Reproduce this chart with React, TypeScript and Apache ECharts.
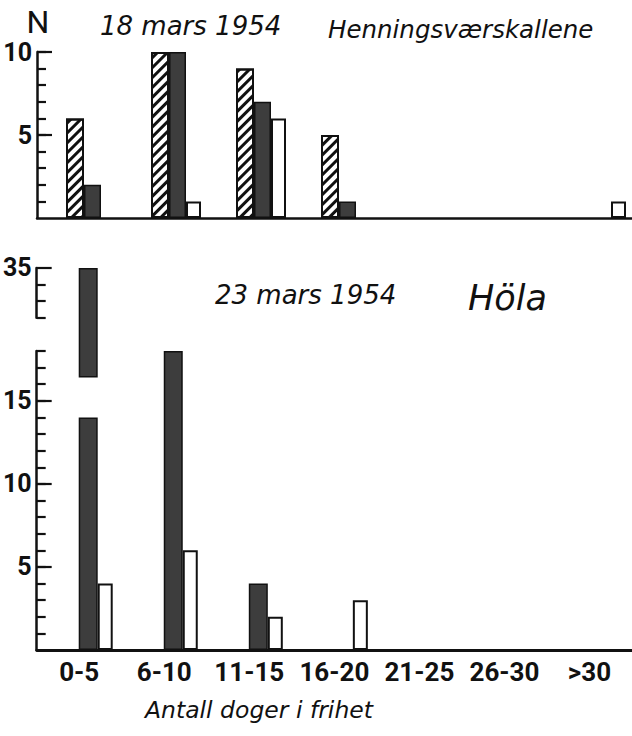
import React, { useEffect, useRef } from "react";
import * as echarts from "echarts";

// ---- data ----
const categories = ["0-5", "6-10", "11-15", "16-20", "21-25", "26-30", ">30"];

// 18 mars 1954 — Henningsværskallene
const henHatched = [6, 10, 9, 5, 0, 0, 0];
const henDark = [2, 10, 7, 1, 0, 0, 0];
const henWhite = [0, 1, 6, 0, 0, 0, 1];

// 23 mars 1954 — Höla
const holaDark = [35, 18, 4, 0, 0, 0, 0];
const holaWhite = [4, 6, 2, 3, 0, 0, 0];

// tick labels
const topLabels = [5, 10];
const lowerLabels = [5, 10, 15];
const upperLabels = [35];

// broken axis of the lower panel
const LOWER_MAX = 18;
const UPPER_MIN = 32;
const UPPER_MAX = 35;
const BREAK_GAP = 2; // display units between the two axis pieces
const CUT_FROM = 14; // where the tall bar is drawn cut
const CUT_TO = 16.4;

const display = (v: number) =>
  v > LOWER_MAX ? v - UPPER_MIN + LOWER_MAX + BREAK_GAP : v;
const nz = (v: number | null) => (v === 0 || v === null ? null : v);
const range = (a: number, b: number) => {
  const r: number[] = [];
  for (let i = a; i <= b; i++) r.push(i);
  return r;
};

const INK = "#111";
const DARK = "#3d3d3d";
const FONT_NARROW = "Roboto, 'Liberation Sans', sans-serif";
const FONT_HAND = "'DejaVu Sans', sans-serif";

const hatchStyle = {
  color: "#fff",
  borderColor: INK,
  borderWidth: 2,
  decal: {
    symbol: "rect",
    symbolSize: 1,
    color: INK,
    backgroundColor: "#fff",
    dashArrayX: [1, 0],
    dashArrayY: [2.6, 3.4],
    rotation: -Math.PI / 4,
  },
};
const darkStyle = { color: DARK, borderColor: INK, borderWidth: 1.5 };
const whiteStyle = { color: "#fff", borderColor: INK, borderWidth: 2 };

export default function App() {
  const ref = useRef<HTMLDivElement>(null);

  useEffect(() => {
    if (!ref.current) return;
    const chart = echarts.init(ref.current, null, { renderer: "svg" });

    const unit = 299 / LOWER_MAX;
    const base = 650;
    const upperTop = base - display(UPPER_MAX) * unit;
    const upperBottom = base - display(UPPER_MIN) * unit;

    const lineStyle = { color: INK, width: 2.5 };
    const tickStyle = { color: INK, width: 2.2 };
    const labelStyle = {
      color: INK,
      fontSize: 25,
      fontFamily: FONT_NARROW,
      fontWeight: "bold",
      margin: 5,
    };

    const yMinor = (gridIdx: number, min: number, max: number, ticks: number[], labels: number[]) => ({
      type: "value",
      gridIndex: gridIdx,
      position: "left",
      min,
      max,
      axisLine: { show: true, lineStyle },
      axisTick: { show: true, inside: true, length: 9, lineStyle: tickStyle, customValues: ticks },
      axisLabel: { show: true, ...labelStyle, customValues: labels },
      splitLine: { show: false },
    });
    const yMajor = (gridIdx: number, min: number, max: number, ticks: number[]) => ({
      type: "value",
      gridIndex: gridIdx,
      position: "left",
      min,
      max,
      axisLine: { show: false },
      axisTick: { show: true, inside: true, length: 15, lineStyle: tickStyle, customValues: ticks },
      axisLabel: { show: false },
      splitLine: { show: false },
    });

    // lower panel, dark bars split where the axis is broken
    const darkLow = holaDark.map((v) => nz(v > LOWER_MAX ? CUT_FROM : v));
    const darkGap = holaDark.map((v) => (v > LOWER_MAX ? CUT_TO - CUT_FROM : null));
    const darkHigh = holaDark.map((v) => (v > LOWER_MAX ? display(v) - CUT_TO : null));

    const empty = categories.map(() => null);

    const option: any = {
      animation: false,
      backgroundColor: "#fff",
      grid: [
        { left: 37, top: 52, width: 600, height: 166 },
        { left: 33, top: base - LOWER_MAX * unit, width: 604, height: LOWER_MAX * unit },
        { left: 33, top: upperTop, width: 604, height: upperBottom - upperTop },
      ],
      xAxis: [
        {
          type: "category",
          gridIndex: 0,
          data: categories,
          axisLine: { show: true, lineStyle },
          axisTick: { show: false },
          axisLabel: { show: false },
        },
        {
          type: "category",
          gridIndex: 1,
          data: categories,
          axisLine: { show: true, lineStyle: { color: INK, width: 2.8 } },
          axisTick: { show: false },
          axisLabel: {
            show: true,
            interval: 0,
            color: INK,
            fontSize: 26,
            fontFamily: FONT_NARROW,
            fontWeight: "bold",
            margin: 9,
          },
        },
        { type: "category", gridIndex: 2, data: categories, show: false },
      ],
      yAxis: [
        yMinor(0, 0, 10, range(1, 10), topLabels),
        yMajor(0, 0, 10, [5, 10]),
        yMinor(1, 0, LOWER_MAX, range(1, LOWER_MAX), lowerLabels),
        yMajor(1, 0, LOWER_MAX, [5, 10, 15]),
        yMinor(2, UPPER_MIN, UPPER_MAX, range(UPPER_MIN, UPPER_MAX - 1), upperLabels),
        yMajor(2, UPPER_MIN, UPPER_MAX, [UPPER_MAX]),
      ],
      series: [
        // top panel
        { type: "bar", xAxisIndex: 0, yAxisIndex: 0, barGap: "0%", barWidth: 23, data: empty, silent: true },
        { type: "bar", xAxisIndex: 0, yAxisIndex: 0, barGap: "0%", barWidth: 18, data: henHatched.map(nz), itemStyle: hatchStyle },
        { type: "bar", xAxisIndex: 0, yAxisIndex: 0, barGap: "0%", barWidth: 17, data: henDark.map(nz), itemStyle: darkStyle },
        { type: "bar", xAxisIndex: 0, yAxisIndex: 0, barGap: "0%", barWidth: 15, data: henWhite.map(nz), itemStyle: whiteStyle },
        // bottom panel
        { type: "bar", xAxisIndex: 1, yAxisIndex: 2, barGap: "0%", barWidth: 16, data: empty, silent: true },
        { type: "bar", xAxisIndex: 1, yAxisIndex: 2, barGap: "0%", barWidth: 17, data: empty, itemStyle: hatchStyle },
        { type: "bar", xAxisIndex: 1, yAxisIndex: 2, barGap: "0%", barWidth: 19, stack: "d", clip: false, data: darkLow, itemStyle: darkStyle },
        { type: "bar", xAxisIndex: 1, yAxisIndex: 2, barGap: "0%", barWidth: 19, stack: "d", clip: false, data: darkGap, itemStyle: { color: "rgba(0,0,0,0)", borderWidth: 0 } },
        { type: "bar", xAxisIndex: 1, yAxisIndex: 2, barGap: "0%", barWidth: 19, stack: "d", clip: false, data: darkHigh, itemStyle: darkStyle },
        { type: "bar", xAxisIndex: 1, yAxisIndex: 2, barGap: "0%", barWidth: 15, data: holaWhite.map(nz), itemStyle: whiteStyle },
      ],
      graphic: [
        { type: "text", x: 38, y: 22, style: { text: "N", fontSize: 32, fontFamily: FONT_NARROW, fill: INK, align: "center", verticalAlign: "middle" } },
        { type: "text", x: 100, y: 26, style: { text: "18 mars 1954", fontSize: 26, fontStyle: "italic", fontFamily: FONT_HAND, fill: INK, align: "left", verticalAlign: "middle" } },
        { type: "text", x: 328, y: 29, style: { text: "Henningsværskallene", fontSize: 24.5, fontStyle: "italic", fontFamily: FONT_HAND, fill: INK, align: "left", verticalAlign: "middle" } },
        { type: "text", x: 215, y: 295, style: { text: "23 mars 1954", fontSize: 26, fontStyle: "italic", fontFamily: FONT_HAND, fill: INK, align: "left", verticalAlign: "middle" } },
        { type: "text", x: 468, y: 298, style: { text: "Höla", fontSize: 35, fontStyle: "italic", fontFamily: FONT_HAND, fill: INK, align: "left", verticalAlign: "middle" } },
        { type: "text", x: 145, y: 710, style: { text: "Antall doger i frihet", fontSize: 23.5, fontStyle: "italic", fontFamily: FONT_HAND, fill: INK, align: "left", verticalAlign: "middle" } },
      ],
    };

    chart.setOption(option);
    return () => chart.dispose();
  }, []);

  return (
    <div
      ref={ref}
      style={{ position: "fixed", left: 0, top: 0, width: 632, height: 736, background: "#fff" }}
    />
  );
}
